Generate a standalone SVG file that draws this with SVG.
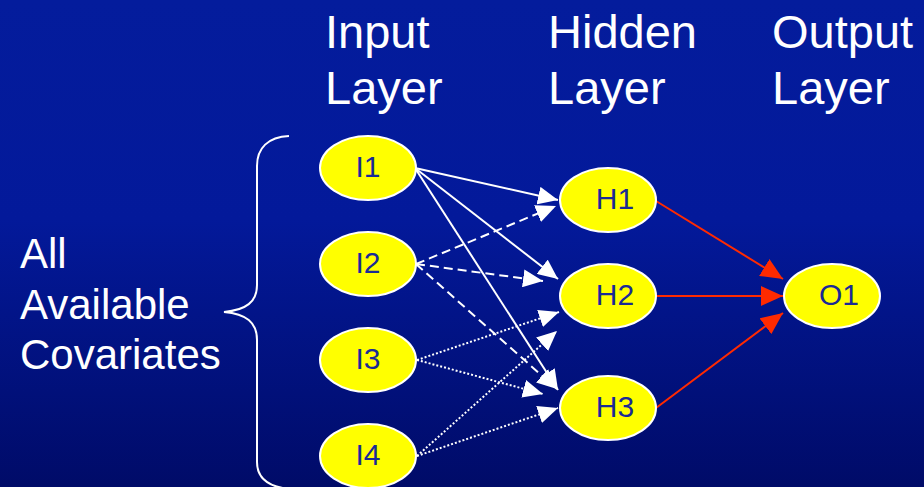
<svg xmlns="http://www.w3.org/2000/svg" width="924" height="487" viewBox="0 0 924 487">
  <defs>
    <linearGradient id="bg" x1="0" y1="0" x2="0" y2="1">
      <stop offset="0" stop-color="#041c9c"/>
      <stop offset="0.45" stop-color="#03199a"/>
      <stop offset="1" stop-color="#000b68"/>
    </linearGradient>
    <marker id="arrow-white" viewBox="0 0 10 9" markerWidth="10" markerHeight="9" refX="10" refY="4.5" orient="auto" markerUnits="strokeWidth">
      <path d="M0,0 L10,4.5 L0,9 z" fill="#ffffff"/>
    </marker>
    <marker id="arrow-red" viewBox="0 0 10 9" markerWidth="11" markerHeight="10" refX="10" refY="4.5" orient="auto" markerUnits="strokeWidth">
      <path d="M0,0 L10,4.5 L0,9 z" fill="#ff2a00"/>
    </marker>
  </defs>
  <style>
    .heading { font-family: "Liberation Sans", Arial, sans-serif; font-size: 47px; fill: #ffffff; }
    .side { font-family: "Liberation Sans", Arial, sans-serif; font-size: 42px; fill: #ffffff; }
    .node ellipse { fill: #ffff00; stroke: #ffffff; stroke-width: 2; }
    .node text { font-family: "Liberation Sans", Arial, sans-serif; font-size: 30px; fill: #1a2a96; text-anchor: middle; }
    .solid { stroke: #ffffff; stroke-width: 2; fill: none; marker-end: url(#arrow-white); }
    .dashed { stroke: #ffffff; stroke-width: 2; fill: none; stroke-dasharray: 9 5; marker-end: url(#arrow-white); }
    .dotted { stroke: #ffffff; stroke-width: 2; fill: none; stroke-dasharray: 2 2; marker-end: url(#arrow-white); }
    .red { stroke: #ff2a00; stroke-width: 2; fill: none; marker-end: url(#arrow-red); }
    .brace { stroke: #ffffff; stroke-width: 2; fill: none; }
  </style>

  <rect x="0" y="0" width="924" height="487" fill="url(#bg)"/>

  <!-- layer headings -->
  <g id="headings">
    <text class="heading" x="325" y="48">Input</text>
    <text class="heading" x="325" y="104">Layer</text>
    <text class="heading" x="548" y="48">Hidden</text>
    <text class="heading" x="548" y="104">Layer</text>
    <text class="heading" x="772" y="48">Output</text>
    <text class="heading" x="772" y="104">Layer</text>
  </g>

  <!-- covariates label and brace -->
  <g id="covariates">
    <text class="side" x="20" y="268">All</text>
    <text class="side" x="20" y="319">Available</text>
    <text class="side" x="20" y="369">Covariates</text>
    <path class="brace" d="M289 136 C268 137 257 148 257 166 L257 285 C257 302 246 310 224 312 C246 314 257 322 257 340 L257 462 C257 478 268 487 290 489"/>
  </g>

  <!-- connectors -->
  <g id="connectors">
    <!-- I1: solid -->
    <line class="solid" x1="415" y1="168" x2="558" y2="200"/>
    <line class="solid" x1="415" y1="168" x2="558" y2="279"/>
    <line class="solid" x1="415" y1="168" x2="558" y2="390"/>
    <!-- I2: dashed -->
    <line class="dashed" x1="416" y1="264" x2="556" y2="206"/>
    <line class="dashed" x1="416" y1="264" x2="543" y2="281"/>
    <line class="dashed" x1="416" y1="264" x2="557" y2="389"/>
    <!-- I3: dotted -->
    <line class="dotted" x1="417" y1="360" x2="559" y2="312"/>
    <line class="dotted" x1="417" y1="360" x2="543" y2="394"/>
    <!-- I4: dotted -->
    <line class="dotted" x1="417" y1="456" x2="557" y2="331"/>
    <line class="dotted" x1="417" y1="456" x2="558" y2="408"/>
    <!-- hidden to output -->
    <line class="red" x1="656" y1="201" x2="783" y2="279"/>
    <line class="red" x1="656" y1="296" x2="783" y2="296"/>
    <line class="red" x1="656" y1="408" x2="783" y2="313"/>
  </g>

  <!-- input nodes -->
  <g id="I1" class="node"><ellipse cx="368" cy="168" rx="48" ry="32"/><text x="368" y="177">I1</text></g>
  <g id="I2" class="node"><ellipse cx="368" cy="264" rx="48" ry="32"/><text x="368" y="273">I2</text></g>
  <g id="I3" class="node"><ellipse cx="368" cy="360" rx="48" ry="32"/><text x="368" y="369">I3</text></g>
  <g id="I4" class="node"><ellipse cx="368" cy="456" rx="48" ry="32"/><text x="368" y="465">I4</text></g>

  <!-- hidden nodes -->
  <g id="H1" class="node"><ellipse cx="608" cy="200" rx="48" ry="32"/><text x="615" y="209">H1</text></g>
  <g id="H2" class="node"><ellipse cx="608" cy="296" rx="48" ry="32"/><text x="615" y="305">H2</text></g>
  <g id="H3" class="node"><ellipse cx="608" cy="408" rx="48" ry="32"/><text x="615" y="417">H3</text></g>

  <!-- output node -->
  <g id="O1" class="node"><ellipse cx="832" cy="296" rx="48" ry="32"/><text x="839" y="305">O1</text></g>
</svg>
